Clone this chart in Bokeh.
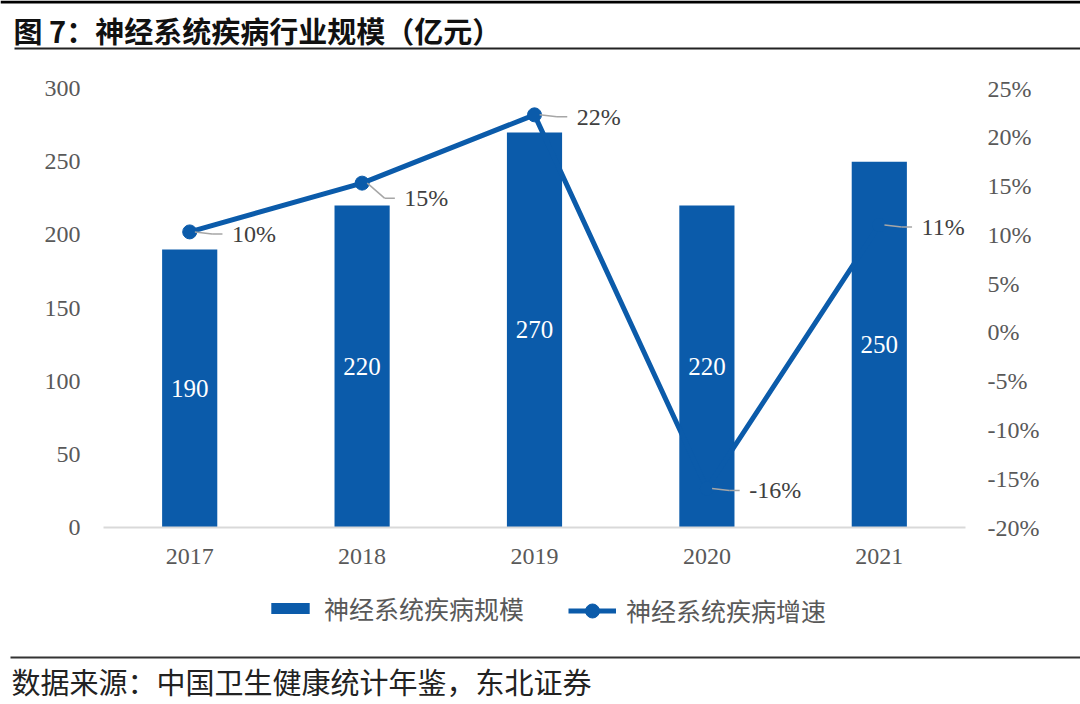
from bokeh.plotting import figure
from bokeh.layouts import column
from bokeh.models import (Range1d, LinearAxis, FixedTicker, NumeralTickFormatter,
                          ColumnDataSource, Legend, LegendItem)
from bokeh.transform import dodge
from bokeh.core.properties import value
from bokeh.embed import file_html
from bokeh.resources import INLINE

# ---- data ----
years = ["2017", "2018", "2019", "2020", "2021"]
scale_values = [190, 220, 270, 220, 250]            # 亿元
growth_values = [0.103, 0.153, 0.223, -0.16, 0.11]  # 增速
left_ticks = [0, 50, 100, 150, 200, 250, 300]
right_ticks = [-0.20, -0.15, -0.10, -0.05, 0.0, 0.05, 0.10, 0.15, 0.20, 0.25]

title_text = "图 7：神经系统疾病行业规模（亿元）"
source_text = "数据来源：中国卫生健康统计年鉴，东北证券"
bar_name = "神经系统疾病规模"
line_name = "神经系统疾病增速"

# ---- style ----
BLUE = "#0B5BAA"
GRAY = "#595959"
SERIF = "Liberation Serif"
CJK = "Noto Sans CJK SC"
TICK_FS = "24px"
W = 1080
H_TOP, H_MAIN, H_BOT = 50, 530, 124
FL, FR, FT, FB = 103, 965, 38, 477  # main frame edges within main figure

growth_labels = [f"{round(g * 100):d}%" for g in growth_values]
label_dy_px = [2, 15, 2, 2, 2]  # label shift downward (layout only)
px_per_unit = (FB - FT) / 0.45
label_y = [g - d / px_per_unit for g, d in zip(growth_values, label_dy_px)]

src = ColumnDataSource(dict(
    year=years, scale=scale_values, half=[v / 2 for v in scale_values],
    scale_lbl=[str(v) for v in scale_values],
    growth=growth_values, glbl=growth_labels, gy=label_y,
))


def blank_fig(h):
    f = figure(width=W, height=h, x_range=Range1d(0, W), y_range=Range1d(h, 0),
               output_backend="svg", toolbar_location=None,
               x_axis_location=None, y_axis_location=None,
               min_border=0, min_border_left=0, min_border_right=0,
               min_border_top=0, min_border_bottom=0)
    f.grid.visible = False
    f.outline_line_color = None
    f.background_fill_color = "white"
    f.border_fill_color = "white"
    return f


# ---- title strip ----
top = blank_fig(H_TOP)
top.quad(left=0, right=W, top=0, bottom=3, fill_color="#000000", line_color=None)
top.text(x=[13], y=[29], text=[title_text], text_font=value(CJK),
         text_font_size="29px", text_font_style="bold", text_color="#111111",
         text_baseline="middle", text_align="left")
top.quad(left=14, right=W, top=47, bottom=49, fill_color="#222222", line_color=None)

# ---- main chart ----
p = figure(width=W, height=H_MAIN, x_range=years, y_range=Range1d(0, 300),
           output_backend="svg", toolbar_location=None,
           min_border_left=FL, min_border_right=W - FR,
           min_border_top=FT, min_border_bottom=H_MAIN - FB)
p.outline_line_color = None
p.background_fill_color = "white"
p.border_fill_color = "white"
p.xgrid.visible = False
p.ygrid.visible = False
p.x_range.range_padding = 0
p.extra_y_ranges = {"pct": Range1d(-0.20, 0.25)}

xa = p.xaxis[0]
xa.axis_line_color = "#D9D9D9"
xa.axis_line_width = 2
xa.major_tick_line_color = None
xa.minor_tick_line_color = None
xa.major_label_text_font = SERIF
xa.major_label_text_font_size = TICK_FS
xa.major_label_text_color = GRAY
xa.major_label_standoff = 15

ya = p.yaxis[0]
ya.ticker = FixedTicker(ticks=left_ticks)
ya.axis_line_color = None
ya.major_tick_line_color = None
ya.minor_tick_line_color = None
ya.major_label_text_font = SERIF
ya.major_label_text_font_size = TICK_FS
ya.major_label_text_color = GRAY
ya.major_label_standoff = 17

ra = LinearAxis(y_range_name="pct", ticker=FixedTicker(ticks=right_ticks),
                formatter=NumeralTickFormatter(format="0%"))
ra.axis_line_color = None
ra.major_tick_line_color = None
ra.minor_tick_line_color = None
ra.major_label_text_font = SERIF
ra.major_label_text_font_size = TICK_FS
ra.major_label_text_color = GRAY
ra.major_label_standoff = 16
p.add_layout(ra, "right")

p.vbar(x="year", top="scale", width=0.32, source=src,
       fill_color=BLUE, line_color=None)
p.line(x="year", y="growth", source=src, y_range_name="pct",
       line_color=BLUE, line_width=5)
p.scatter(x="year", y="growth", source=src, y_range_name="pct",
          size=14, marker="circle", fill_color=BLUE, line_color=BLUE)

p.text(x="year", y="half", text="scale_lbl", source=src,
       text_font=value(SERIF), text_font_size="25px", text_color="white",
       text_align="center", text_baseline="middle")

p.segment(x0=dodge("year", 0.03, range=p.x_range), y0="growth",
          x1=dodge("year", 0.13, range=p.x_range), y1="gy",
          source=src, y_range_name="pct", line_color="#A6A6A6", line_width=1.5)
p.segment(x0=dodge("year", 0.13, range=p.x_range), y0="gy",
          x1=dodge("year", 0.19, range=p.x_range), y1="gy",
          source=src, y_range_name="pct", line_color="#A6A6A6", line_width=1.5)
p.text(x=dodge("year", 0.245, range=p.x_range), y="gy", text="glbl", source=src,
       y_range_name="pct", text_font=value(SERIF), text_font_size="24px",
       text_color="#404040", text_align="left", text_baseline="middle")

# ---- bottom strip: legend, rule, source ----
bot = blank_fig(H_BOT)
# off-screen proxy renderers that only supply the legend swatches
proxy = ColumnDataSource(dict(x=[-1000], y=[-1000], top=[-1000]))
r_bar = bot.vbar(x="x", top="top", width=1, source=proxy,
                 fill_color=BLUE, line_color=None)
r_line = bot.line(x="x", y="y", source=proxy, line_color=BLUE, line_width=5)
r_mk = bot.scatter(x="x", y="y", source=proxy, size=14, marker="circle",
                   fill_color=BLUE, line_color=BLUE)

# legend locations are (left, bottom) measured from the strip's bottom-left
leg1 = Legend(items=[LegendItem(label=bar_name, renderers=[r_bar])],
              location=(266, H_BOT - 46), orientation="horizontal",
              glyph_width=48, glyph_height=14, label_standoff=10,
              padding=0, margin=0, border_line_color=None,
              background_fill_alpha=0,
              label_text_font=CJK, label_text_font_size="25px",
              label_text_color=GRAY)
leg2 = Legend(items=[LegendItem(label=line_name, renderers=[r_line, r_mk])],
              location=(568, H_BOT - 48), orientation="horizontal",
              glyph_width=48, glyph_height=35, label_standoff=10,
              padding=0, margin=0, border_line_color=None,
              background_fill_alpha=0,
              label_text_font=CJK, label_text_font_size="25px",
              label_text_color=GRAY)
bot.add_layout(leg1, "center")
bot.add_layout(leg2, "center")

bot.quad(left=10, right=W, top=76, bottom=78, fill_color="#333333", line_color=None)
bot.text(x=[11], y=[100], text=[source_text], text_font=value(CJK),
         text_font_size="29px", text_color="#222222",
         text_baseline="middle", text_align="left")

# wrap the chart so the plain strips keep their own full-width frames
layout = column(top, column(p), bot, spacing=0)
open("out.html", "w").write(file_html(layout, INLINE))
